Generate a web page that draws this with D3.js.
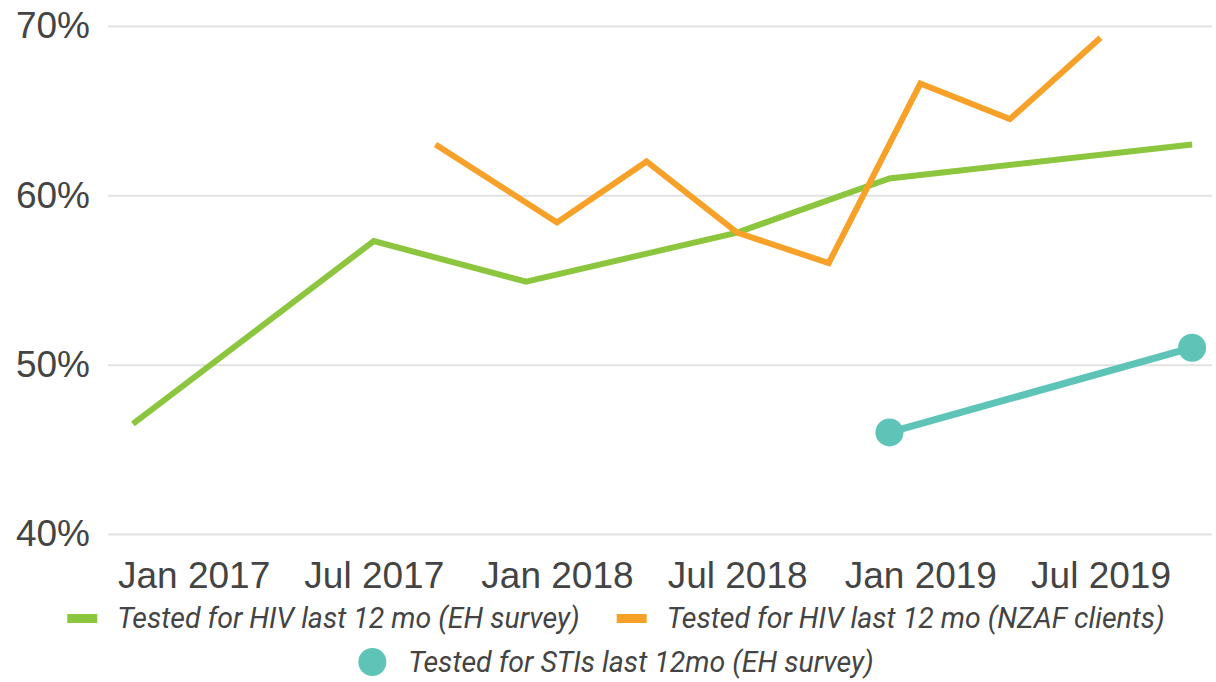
<!DOCTYPE html>
<html>
<head>
<meta charset="utf-8">
<script src="https://cdn.jsdelivr.net/npm/d3@7"></script>
<style>
  body { margin: 0; background: #fff; }
  svg { display: block; font-family: Roboto, "Noto Sans", sans-serif; }
</style>
</head>
<body>
<div id="chart"></div>
<script>
// series: HIV testing, EH survey
var ehDates = ["2016-11-01", "2017-07-01", "2017-12-01", "2018-07-01", "2018-12-01", "2019-10-01"];
var ehValues = [46.5, 57.3, 54.9, 57.8, 61.0, 63.0];
// series: HIV testing, NZAF clients
var nzafDates = ["2017-09-01", "2018-01-01", "2018-04-01", "2018-07-01", "2018-10-01", "2019-01-01", "2019-04-01", "2019-07-01"];
var nzafValues = [63.0, 58.4, 62.0, 57.8, 56.0, 66.6, 64.5, 69.3];
// series: STI testing, EH survey
var stiDates = ["2018-12-01", "2019-10-01"];
var stiValues = [46.0, 51.0];

var seriesNames = [
  "Tested for HIV last 12 mo (EH survey)",
  "Tested for HIV last 12 mo (NZAF clients)",
  "Tested for STIs last 12mo (EH survey)"
];
var seriesColors = ["#8cc63f", "#f7a128", "#5ec4b7"];

var xTickDates = ["2017-01-01", "2017-07-01", "2018-01-01", "2018-07-01", "2019-01-01", "2019-07-01"];
var yTicks = [40, 50, 60, 70];

var width = 1216, height = 682;
var parse = d3.timeParse("%Y-%m-%d");

function zip(dates, values) {
  return dates.map(function (d, i) { return { date: parse(d), value: values[i] }; });
}
var series = [zip(ehDates, ehValues), zip(nzafDates, nzafValues), zip(stiDates, stiValues)];

var svg = d3.select("#chart").append("svg")
  .attr("width", width)
  .attr("height", height);

var x = d3.scaleTime()
  .domain([parse("2016-10-07"), parse("2019-10-21")])
  .range([108, 1212]);
var y = d3.scaleLinear()
  .domain([40, 70])
  .range([534, 26]);

// gridlines + y labels
var yAxis = svg.append("g")
  .attr("transform", "translate(108,0)")
  .call(d3.axisLeft(y).tickValues(yTicks).tickSize(-(1212 - 108)).tickFormat(function (d) { return d + "%"; }));
yAxis.select(".domain").remove();
yAxis.selectAll(".tick line").attr("stroke", "#e2e2e2").attr("stroke-width", 2);
yAxis.selectAll(".tick text")
  .attr("x", -18)
  .attr("fill", "#444")
  .style("font-size", "37px");

// x labels
var xAxis = svg.append("g")
  .attr("transform", "translate(0,534)")
  .call(d3.axisBottom(x).tickValues(xTickDates.map(parse)).tickSize(0).tickFormat(d3.timeFormat("%b %Y")));
xAxis.select(".domain").remove();
xAxis.selectAll(".tick text")
  .attr("y", 0)
  .attr("dy", 54)
  .attr("fill", "#444")
  .style("font-size", "37px");

var line = d3.line()
  .x(function (d) { return x(d.date); })
  .y(function (d) { return y(d.value); });

series.forEach(function (s, i) {
  svg.append("path")
    .datum(s)
    .attr("fill", "none")
    .attr("stroke", seriesColors[i])
    .attr("stroke-width", i === 2 ? 7 : 6)
    .attr("stroke-linejoin", "miter")
    .attr("stroke-linecap", "butt")
    .attr("d", line);
});

svg.append("g").selectAll("circle")
  .data(series[2])
  .join("circle")
  .attr("cx", function (d) { return x(d.date); })
  .attr("cy", function (d) { return y(d.value); })
  .attr("r", 14)
  .attr("fill", seriesColors[2]);

// legend, two centered rows
var legendRows = [[0, 1], [2]];
var legendBaselines = [628, 672];
var legendCenter = 616;
legendRows.forEach(function (row, r) {
  var g = svg.append("g");
  var cursor = 0;
  row.forEach(function (si, k) {
    if (k > 0) cursor += 37;
    var item = g.append("g").attr("transform", "translate(" + cursor + ",0)");
    if (si === 2) {
      item.append("circle")
        .attr("cx", 14).attr("cy", legendBaselines[r] - 10).attr("r", 14)
        .attr("fill", seriesColors[si]);
    } else {
      item.append("rect")
        .attr("x", 0).attr("y", legendBaselines[r] - 14)
        .attr("width", 30).attr("height", 9)
        .attr("fill", seriesColors[si]);
    }
    var t = item.append("text")
      .attr("x", 50)
      .attr("y", legendBaselines[r])
      .attr("fill", "#444")
      .style("font-size", "28.5px")
      .style("font-style", "italic")
      .text(seriesNames[si]);
    cursor += 50 + t.node().getComputedTextLength();
  });
  g.attr("transform", "translate(" + (legendCenter - cursor / 2) + ",0)");
});
</script>
</body>
</html>
